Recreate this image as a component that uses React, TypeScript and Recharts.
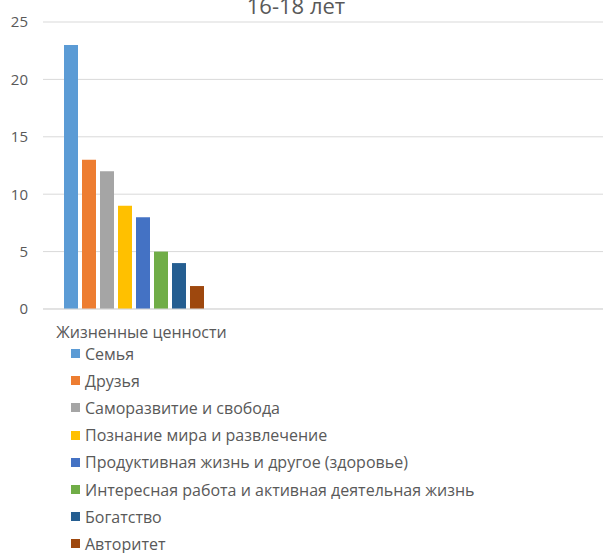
import { BarChart, Bar, XAxis, YAxis, CartesianGrid, Legend } from 'recharts';

const chartTitle = '16-18 лет';
const category = 'Жизненные ценности';
const seriesNames = [
  'Семья',
  'Друзья',
  'Саморазвитие и свобода',
  'Познание мира и развлечение',
  'Продуктивная жизнь и другое (здоровье)',
  'Интересная работа и активная деятельная жизнь',
  'Богатство',
  'Авторитет',
];
const seriesValues = [23, 13, 12, 9, 8, 5, 4, 2];
const seriesColors = ['#5B9BD5', '#ED7D31', '#A5A5A5', '#FFC000', '#4472C4', '#70AD47', '#255E91', '#9E480E'];
const yTicks = [0, 5, 10, 15, 20, 25];

const font = '"Open Sans", sans-serif';
const textColor = '#595959';

const row: Record<string, string | number> = { name: category };
seriesNames.forEach((_, i) => {
  row[`s${i}`] = seriesValues[i];
});
const data = [row];

function CategoryTick({ x, y, payload }: any) {
  return (
    <text x={x + 8} y={y + 29} textAnchor="middle" fill={textColor} fontSize={16}>
      {payload.value}
    </text>
  );
}

// legend keeps the series order (recharts sorts its payload by name)
function LegendList() {
  return (
    <div style={{ paddingLeft: 71 }}>
      {seriesNames.map((name, i) => (
        <div
          key={name}
          style={{ display: 'flex', alignItems: 'center', height: 27.2, fontSize: 16, color: textColor, whiteSpace: 'nowrap' }}
        >
          <span style={{ width: 9, height: 9, background: seriesColors[i], marginRight: 5, display: 'inline-block' }} />
          <span>{name}</span>
        </div>
      ))}
    </div>
  );
}

export default function App() {
  return (
    <div style={{ position: 'absolute', left: 0, top: 0, width: 603, height: 553, fontFamily: font, background: '#fff', overflow: 'hidden' }}>
      <div
        style={{
          position: 'absolute',
          top: -10,
          left: 0,
          width: 592,
          textAlign: 'center',
          fontSize: 22,
          lineHeight: '30px',
          color: textColor,
          zIndex: 2,
        }}
      >
        {chartTitle}
      </div>
      <BarChart
        width={603}
        height={553}
        data={data}
        margin={{ top: 22, right: 0, left: 0, bottom: 214 }}
        barGap={4}
      >
        <CartesianGrid vertical={false} stroke="#D9D9D9" />
        <XAxis
          dataKey="name"
          height={30}
          padding={{ left: 0, right: 379 }}
          axisLine={{ stroke: '#D9D9D9' }}
          tickLine={false}
          tickSize={0}
          tickMargin={0}
          tick={<CategoryTick />}
        />
        <YAxis
          width={43}
          domain={[0, 25]}
          ticks={yTicks}
          axisLine={false}
          tickLine={false}
          tickSize={0}
          tickMargin={15}
          tick={{ fill: textColor, fontSize: 15 }}
        />
        <Legend
          layout="vertical"
          align="center"
          verticalAlign="middle"
          wrapperStyle={{ left: 0, top: 340, width: 603 }}
          content={<LegendList />}
        />
        {seriesNames.map((name, i) => (
          <Bar key={name} dataKey={`s${i}`} name={name} fill={seriesColors[i]} barSize={14} isAnimationActive={false} />
        ))}
      </BarChart>
    </div>
  );
}
